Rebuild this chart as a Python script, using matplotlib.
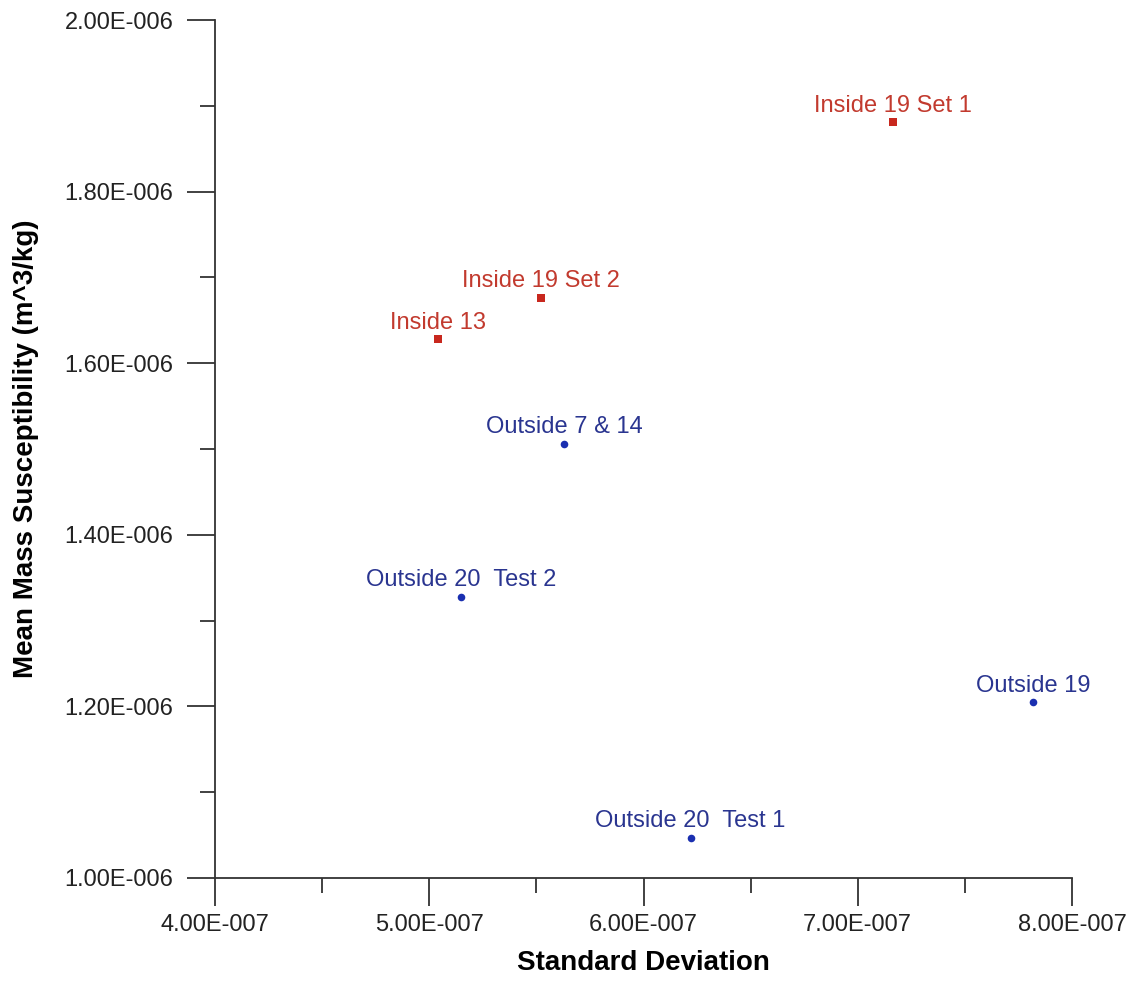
import matplotlib
matplotlib.use("Agg")
import matplotlib.pyplot as plt
from matplotlib.ticker import MultipleLocator, FuncFormatter

plt.rcParams['font.family'] = ['Liberation Sans', 'DejaVu Sans']

# Inside samples (red squares)
inside_labels = ["Inside 19 Set 1", "Inside 19 Set 2", "Inside 13"]
inside_sd = [7.165e-7, 5.52e-7, 5.04e-7]
inside_mean = [1.881e-6, 1.676e-6, 1.628e-6]

# Outside samples (blue circles)
outside_labels = ["Outside 7 & 14", "Outside 20  Test 2", "Outside 19", "Outside 20  Test 1"]
outside_sd = [5.63e-7, 5.15e-7, 7.82e-7, 6.22e-7]
outside_mean = [1.506e-6, 1.3275e-6, 1.205e-6, 1.047e-6]

x_limits = (4.0e-7, 8.0e-7)
y_limits = (1.0e-6, 2.0e-6)

red_marker = "#c8281e"
red_text = "#c23a2e"
blue_marker = "#1a2fb0"
blue_text = "#2a3590"
axis_color = "#333333"

fig = plt.figure(figsize=(11.34, 9.92), dpi=100)
ax = fig.add_axes([215 / 1134, 1 - 878 / 992, (1072 - 215) / 1134, (878 - 20) / 992])

ax.scatter(inside_sd, inside_mean, marker="s", s=30, color=red_marker, zorder=3, linewidths=0)
ax.scatter(outside_sd, outside_mean, marker="o", s=30, color=blue_marker, zorder=3, linewidths=0)

for lbl, x, y in zip(inside_labels, inside_sd, inside_mean):
    ax.annotate(lbl, (x, y), xytext=(0, 4), textcoords="offset points",
                ha="center", va="bottom", fontsize=17, color=red_text)
for lbl, x, y in zip(outside_labels, outside_sd, outside_mean):
    ax.annotate(lbl, (x, y), xytext=(0, 4), textcoords="offset points",
                ha="center", va="bottom", fontsize=17, color=blue_text)

ax.set_xlim(*x_limits)
ax.set_ylim(*y_limits)

ax.xaxis.set_major_locator(MultipleLocator(1e-7))
ax.xaxis.set_minor_locator(MultipleLocator(0.5e-7))
ax.yaxis.set_major_locator(MultipleLocator(0.2e-6))
ax.yaxis.set_minor_locator(MultipleLocator(0.1e-6))


def sci_fmt(v, pos):
    mant, exp = f"{v:.2E}".split("E")
    e = int(exp)
    sign = "-" if e < 0 else "+"
    return f"{mant}E{sign}{abs(e):03d}"


ax.xaxis.set_major_formatter(FuncFormatter(sci_fmt))
ax.yaxis.set_major_formatter(FuncFormatter(sci_fmt))

for side in ("top", "right"):
    ax.spines[side].set_visible(False)
for side in ("left", "bottom"):
    ax.spines[side].set_color(axis_color)
    ax.spines[side].set_linewidth(1.3)

ax.tick_params(which="major", direction="out", length=20, width=1.3, color=axis_color,
               labelsize=17, labelcolor="#222222")
ax.tick_params(axis="x", which="major", pad=6)
ax.tick_params(axis="y", which="major", pad=10)
ax.tick_params(which="minor", direction="out", length=10.5, width=1.3, color=axis_color)

ax.set_xlabel("Standard Deviation", fontsize=20, fontweight="bold", labelpad=10)
ax.set_ylabel("Mean Mass Susceptibility (m^3/kg)", fontsize=20, fontweight="bold", labelpad=18)

fig.savefig("out.png", dpi=100, facecolor="white")
